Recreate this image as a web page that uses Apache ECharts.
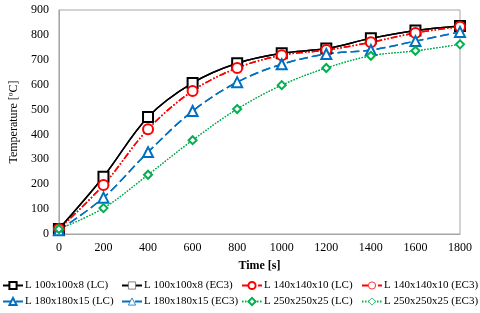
<!DOCTYPE html>
<html><head><meta charset="utf-8">
<script src="https://cdn.jsdelivr.net/npm/echarts@6/dist/echarts.min.js"></script>
<style>html,body{margin:0;padding:0;background:#fff}#c{width:480px;height:313px}</style>
</head><body><div id="c"></div>
<script>
const times = [0,200,400,600,800,1000,1200,1400,1600,1800];
const l100 = [20,230,470,607,686,726,745,786,818,836];
const l140 = [20,197,421,575,667,718,739,770,808,833];
const l180 = [15,146,329,494,610,682,723,739,775,812];
const l250 = [20,104,238,377,502,598,667,716,736,762];
const names = ['L 100x100x8','L 140x140x10','L 180x180x15','L 250x250x25'];
const colors = ['#000000','#ff0000','#0070c0','#00b050'];
const symbols = ['rect','circle','triangle','diamond'];
const sizes = [10,10,10,8];
const dashes = ['solid',[7,2,1.5,2,1.5,2],[9,4],[1.5,1.5]];
const widths = [1.5,1.5,1.5,1.2];
const datas = [l100,l140,l180,l250];

const F = 'Liberation Serif';
const series = [];
datas.forEach((d,i)=>{
  const pts = times.map((t,k)=>[t,d[k]]);
  series.push({
    name: names[i]+' (EC3)', type:'line', smooth:0.35, data: pts,
    symbol: symbols[i], symbolSize: sizes[i]-2, showSymbol:false,
    lineStyle:{color:colors[i],width:widths[i],type:dashes[i]},
    itemStyle:{color:'#fff',borderColor:i===0?'#666':colors[i],borderWidth:0.8},
    z:2
  });
  series.push({
    name: names[i]+' (LC)', type:'line', smooth:0.35, data: pts,
    symbol: symbols[i], symbolSize: sizes[i], showSymbol:true,
    lineStyle:{color:colors[i],width:widths[i],type:dashes[i]},
    itemStyle:{color:'#fff',borderColor:colors[i],borderWidth:2},
    z:3
  });
});

function item(i, kind){
  const thin = kind==='EC3';
  return {name: names[i]+' ('+kind+')',
    itemStyle:{color:'#fff',borderColor:(thin&&i===0)?'#666':colors[i],borderWidth:thin?0.8:2}};
}
function leg(left, top, items){
  return {left:left, top:top, orient:'vertical', itemGap:5, itemWidth:20, itemHeight:9,
    textStyle:{fontFamily:F,fontSize:11,color:'#000',padding:[0,0,0,-3]}, data:items, selectedMode:false, padding:0};
}
const chart = echarts.init(document.getElementById('c'));
chart.setOption({
  animation:false,
  grid:{left:56,right:20,top:10,bottom:79,show:true,borderColor:'#a6a6a6',borderWidth:1},
  xAxis:{type:'value',min:0,max:1800,interval:200,
    name:'Time [s]',nameLocation:'middle',nameGap:26,
    nameTextStyle:{fontFamily:F,fontSize:12,color:'#000',fontWeight:'bold'},
    axisLine:{lineStyle:{color:'#a6a6a6'}},axisTick:{show:false},splitLine:{show:false},
    axisLabel:{fontFamily:F,fontSize:12,color:'#000',margin:8,formatter:v=>String(v)}},
  yAxis:{type:'value',min:0,max:900,interval:100,
    name:'Temperature [ºC]',nameLocation:'middle',nameGap:36,
    nameTextStyle:{fontFamily:F,fontSize:12,color:'#000'},
    axisLine:{show:true,lineStyle:{color:'#a6a6a6'}},axisTick:{show:false},splitLine:{show:false},
    axisLabel:{fontFamily:F,fontSize:12,color:'#000',margin:10,formatter:v=>String(v)}},
  legend:[
    leg(2,280,[item(0,'LC'),item(2,'LC')]),
    leg(121,280,[item(0,'EC3'),item(2,'EC3')]),
    leg(241,280,[item(1,'LC'),item(3,'LC')]),
    leg(361,280,[item(1,'EC3'),item(3,'EC3')])
  ],
  series:series
});
</script></body></html>
